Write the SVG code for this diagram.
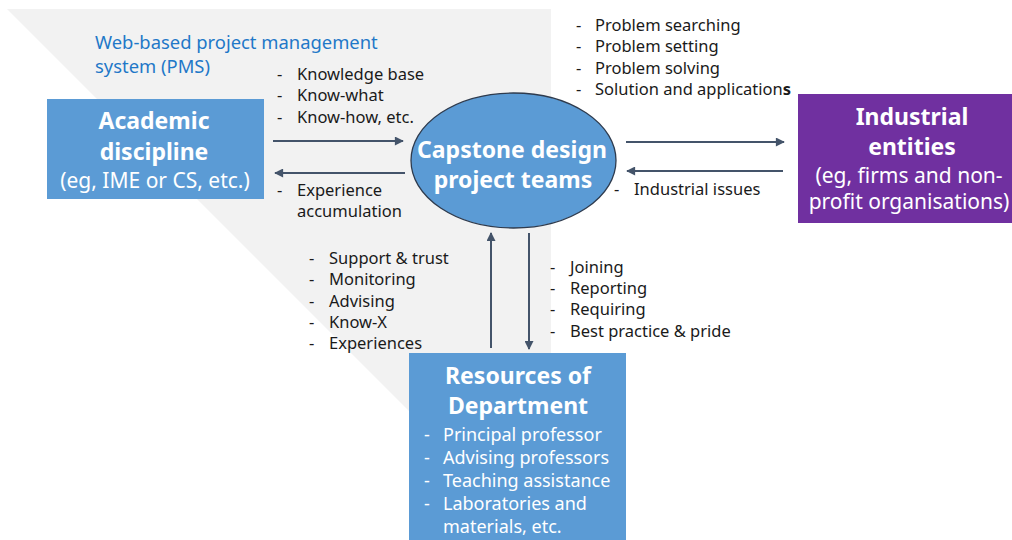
<svg xmlns="http://www.w3.org/2000/svg" width="1012" height="540" viewBox="0 0 1012 540">
  <style>
    .t { font-family: "Noto Sans", "Open Sans", sans-serif; fill: #1a1a1a; font-size: 16.5px; }
    .pms { font-family: "Noto Sans", "Open Sans", sans-serif; fill: #1F78C8; font-size: 18.4px; }
    .title { font-family: "Noto Sans", "Open Sans", sans-serif; fill: #ffffff; font-size: 23px; font-weight: bold; text-anchor: middle; }
    .sub { font-family: "Noto Sans", "Open Sans", sans-serif; fill: #ffffff; font-size: 21px; text-anchor: middle; }
    .res { font-family: "Noto Sans", "Open Sans", sans-serif; fill: #ffffff; font-size: 18px; }
    .box { fill: #5B9BD5; }
    .conn { stroke: #44546A; stroke-width: 2; fill: none; marker-end: url(#head); }
  </style>
  <defs>
    <marker id="head" viewBox="0 0 10 10" refX="9" refY="5" markerWidth="10" markerHeight="9" markerUnits="userSpaceOnUse" orient="auto">
      <path d="M0,0 L10,5 L0,10 Z" fill="#44546A"/>
    </marker>
  </defs>

  <!-- background band: web-based project management system -->
  <g id="pms">
    <polygon points="7,9 551,9 551,420 418,420" fill="#F2F2F2"/>
    <text class="pms" x="95" y="49">Web-based project management</text>
    <text class="pms" x="95" y="73">system (PMS)</text>
  </g>

  <!-- connectors with their labels -->
  <g id="connectors">
    <line class="conn" x1="273" y1="141" x2="403" y2="141"/>
    <line class="conn" x1="405" y1="173" x2="275" y2="173"/>
    <line class="conn" x1="626" y1="142" x2="784" y2="142"/>
    <line class="conn" x1="783" y1="171" x2="627" y2="171"/>
    <line class="conn" x1="491" y1="348" x2="491" y2="233"/>
    <line class="conn" x1="529" y1="233" x2="529" y2="349"/>

    <text class="t"><tspan x="277" y="80">-</tspan><tspan x="297" y="80">Knowledge base</tspan></text>
    <text class="t"><tspan x="277" y="101">-</tspan><tspan x="297" y="101">Know-what</tspan></text>
    <text class="t"><tspan x="277" y="123">-</tspan><tspan x="297" y="123">Know-how, etc.</tspan></text>

    <text class="t"><tspan x="277" y="196">-</tspan><tspan x="297" y="196">Experience</tspan></text>
    <text class="t" x="297" y="217">accumulation</text>

    <text class="t"><tspan x="576" y="31">-</tspan><tspan x="595" y="31">Problem searching</tspan></text>
    <text class="t"><tspan x="576" y="52">-</tspan><tspan x="595" y="52">Problem setting</tspan></text>
    <text class="t"><tspan x="576" y="74">-</tspan><tspan x="595" y="74">Problem solving</tspan></text>
    <text class="t"><tspan x="576" y="95">-</tspan><tspan x="595" y="95">Solution and application</tspan><tspan font-weight="bold">s</tspan></text>

    <text class="t"><tspan x="614" y="195">-</tspan><tspan x="634" y="195">Industrial issues</tspan></text>

    <text class="t"><tspan x="309" y="264">-</tspan><tspan x="329" y="264">Support &amp; trust</tspan></text>
    <text class="t"><tspan x="309" y="285">-</tspan><tspan x="329" y="285">Monitoring</tspan></text>
    <text class="t"><tspan x="309" y="307">-</tspan><tspan x="329" y="307">Advising</tspan></text>
    <text class="t"><tspan x="309" y="328">-</tspan><tspan x="329" y="328">Know-X</tspan></text>
    <text class="t"><tspan x="309" y="349">-</tspan><tspan x="329" y="349">Experiences</tspan></text>

    <text class="t"><tspan x="550" y="273">-</tspan><tspan x="570" y="273">Joining</tspan></text>
    <text class="t"><tspan x="550" y="294">-</tspan><tspan x="570" y="294">Reporting</tspan></text>
    <text class="t"><tspan x="550" y="315">-</tspan><tspan x="570" y="315">Requiring</tspan></text>
    <text class="t"><tspan x="550" y="337">-</tspan><tspan x="570" y="337">Best practice &amp; pride</tspan></text>
  </g>

  <!-- academic discipline -->
  <g id="academic">
    <rect class="box" x="47" y="99" width="217" height="100"/>
    <text class="title" x="154" y="129">Academic</text>
    <text class="title" x="154" y="160">discipline</text>
    <text class="sub" x="155" y="188">(eg, IME or CS, etc.)</text>
  </g>

  <!-- capstone design project teams -->
  <g id="teams">
    <ellipse cx="513.5" cy="160.5" rx="102.5" ry="67.5" fill="#5B9BD5" stroke="#2E3B4E" stroke-width="1.3"/>
    <text class="title" x="512" y="158">Capstone design</text>
    <text class="title" x="513" y="188">project teams</text>
  </g>

  <!-- industrial entities -->
  <g id="industrial">
    <rect x="798" y="94" width="214" height="129" fill="#7030A0"/>
    <text class="title" x="912" y="125">Industrial</text>
    <text class="title" x="912" y="155">entities</text>
    <text class="sub" x="909" y="183">(eg, firms and non-</text>
    <text class="sub" x="909" y="209" font-size="20.5">profit organisations)</text>
  </g>

  <!-- departmental resources -->
  <g id="resources">
    <rect class="box" x="409" y="353" width="217" height="187"/>
    <text class="title" x="518" y="384">Resources of</text>
    <text class="title" x="518" y="414">Department</text>
    <text class="res"><tspan x="424" y="441">-</tspan><tspan x="443" y="441">Principal professor</tspan></text>
    <text class="res"><tspan x="424" y="464">-</tspan><tspan x="443" y="464">Advising professors</tspan></text>
    <text class="res"><tspan x="424" y="487">-</tspan><tspan x="443" y="487">Teaching assistance</tspan></text>
    <text class="res"><tspan x="424" y="510">-</tspan><tspan x="443" y="510">Laboratories and</tspan></text>
    <text class="res" x="443" y="533">materials, etc.</text>
  </g>
</svg>
